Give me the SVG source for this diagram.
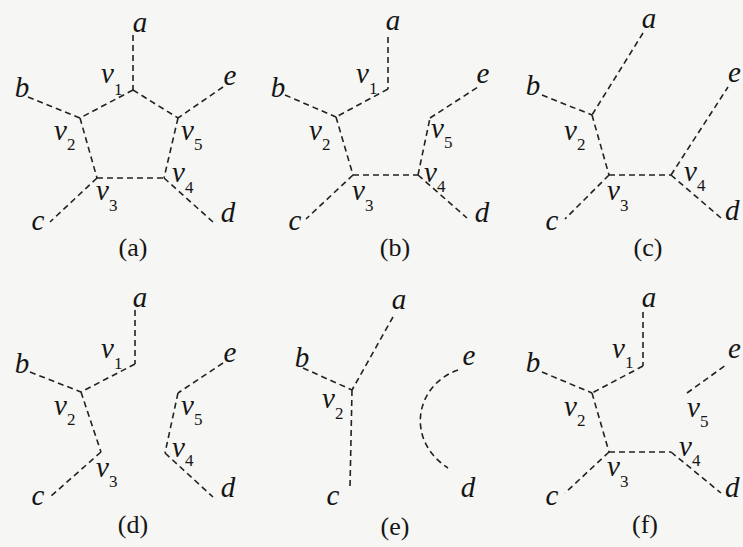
<svg xmlns="http://www.w3.org/2000/svg" width="743" height="547" viewBox="0 0 743 547">
<style>
.lbl{font-family:"Liberation Serif","Times New Roman",serif;font-style:italic;font-size:29px;fill:#151515}
.m{text-anchor:middle}
.sub{font-style:normal;font-size:17px}
.cap{font-family:"Liberation Serif","Times New Roman",serif;font-size:26px;fill:#151515;text-anchor:middle}
.ed{fill:none;stroke:#222;stroke-width:1.6;stroke-dasharray:6 4}
</style>
<rect width="743" height="547" fill="#f6f6f4"/>

<g id="panel-a">
<g id="connectors-a">
<line class="ed" x1="133" y1="35" x2="133" y2="90"/>
<line class="ed" x1="133" y1="90" x2="80" y2="118"/>
<line class="ed" x1="133" y1="90" x2="178" y2="118"/>
<line class="ed" x1="28" y1="97" x2="80" y2="118"/>
<line class="ed" x1="223" y1="87" x2="178" y2="118"/>
<line class="ed" x1="80" y1="118" x2="97" y2="178"/>
<line class="ed" x1="178" y1="118" x2="164" y2="178"/>
<line class="ed" x1="97" y1="178" x2="164" y2="178"/>
<line class="ed" x1="97" y1="178" x2="50" y2="222"/>
<line class="ed" x1="164" y1="178" x2="213" y2="222"/>
</g>
<g id="a-a"><text class="lbl m" x="140" y="32">a</text></g>
<g id="a-b"><text class="lbl m" x="22" y="97">b</text></g>
<g id="a-c"><text class="lbl m" x="38" y="230">c</text></g>
<g id="a-d"><text class="lbl m" x="228" y="222">d</text></g>
<g id="a-e"><text class="lbl m" x="230" y="85">e</text></g>
<g id="a-v1"><text class="lbl" x="101" y="83">v<tspan class="sub" dy="12">1</tspan></text></g>
<g id="a-v2"><text class="lbl" x="54" y="140">v<tspan class="sub" dy="10">2</tspan></text></g>
<g id="a-v3"><text class="lbl" x="96" y="200">v<tspan class="sub" dy="11">3</tspan></text></g>
<g id="a-v4"><text class="lbl" x="172" y="182">v<tspan class="sub" dy="11">4</tspan></text></g>
<g id="a-v5"><text class="lbl" x="181" y="140">v<tspan class="sub" dy="10">5</tspan></text></g>
<text class="cap" x="133" y="256">(a)</text>
</g>

<g id="panel-b">
<g id="connectors-b">
<line class="ed" x1="388" y1="37" x2="388" y2="89"/>
<line class="ed" x1="388" y1="89" x2="336" y2="117"/>
<line class="ed" x1="285" y1="95" x2="336" y2="117"/>
<line class="ed" x1="336" y1="117" x2="353" y2="175"/>
<line class="ed" x1="353" y1="175" x2="306" y2="219"/>
<line class="ed" x1="353" y1="175" x2="418" y2="175"/>
<line class="ed" x1="418" y1="175" x2="430" y2="118"/>
<line class="ed" x1="430" y1="118" x2="478" y2="87"/>
<line class="ed" x1="418" y1="175" x2="467" y2="218"/>
</g>
<g id="b-a"><text class="lbl m" x="393" y="30">a</text></g>
<g id="b-b"><text class="lbl m" x="278" y="97">b</text></g>
<g id="b-c"><text class="lbl m" x="295" y="230">c</text></g>
<g id="b-d"><text class="lbl m" x="482" y="222">d</text></g>
<g id="b-e"><text class="lbl m" x="483" y="83">e</text></g>
<g id="b-v1"><text class="lbl" x="356" y="83">v<tspan class="sub" dy="11">1</tspan></text></g>
<g id="b-v2"><text class="lbl" x="309" y="140">v<tspan class="sub" dy="10">2</tspan></text></g>
<g id="b-v3"><text class="lbl" x="352" y="200">v<tspan class="sub" dy="11">3</tspan></text></g>
<g id="b-v4"><text class="lbl" x="424" y="182">v<tspan class="sub" dy="10">4</tspan></text></g>
<g id="b-v5"><text class="lbl" x="431" y="138">v<tspan class="sub" dy="10">5</tspan></text></g>
<text class="cap" x="395" y="256">(b)</text>
</g>

<g id="panel-c">
<g id="connectors-c">
<line class="ed" x1="643" y1="33" x2="592" y2="115"/>
<line class="ed" x1="542" y1="95" x2="592" y2="115"/>
<line class="ed" x1="592" y1="115" x2="609" y2="175"/>
<line class="ed" x1="609" y1="175" x2="565" y2="219"/>
<line class="ed" x1="609" y1="175" x2="671" y2="175"/>
<line class="ed" x1="671" y1="175" x2="728" y2="87"/>
<line class="ed" x1="671" y1="175" x2="721" y2="218"/>
</g>
<g id="c-a"><text class="lbl m" x="649" y="28">a</text></g>
<g id="c-b"><text class="lbl m" x="533" y="95">b</text></g>
<g id="c-c"><text class="lbl m" x="552" y="230">c</text></g>
<g id="c-d"><text class="lbl" x="725" y="220">d</text></g>
<g id="c-e"><text class="lbl" x="728" y="82">e</text></g>
<g id="c-v2"><text class="lbl" x="564" y="140">v<tspan class="sub" dy="10">2</tspan></text></g>
<g id="c-v3"><text class="lbl" x="607" y="200">v<tspan class="sub" dy="11">3</tspan></text></g>
<g id="c-v4"><text class="lbl" x="684" y="181">v<tspan class="sub" dy="10">4</tspan></text></g>
<text class="cap" x="648" y="256">(c)</text>
</g>

<g id="panel-d">
<g id="connectors-d">
<line class="ed" x1="135" y1="310" x2="135" y2="364"/>
<line class="ed" x1="135" y1="364" x2="81" y2="392"/>
<line class="ed" x1="30" y1="372" x2="81" y2="392"/>
<line class="ed" x1="81" y1="392" x2="101" y2="452"/>
<line class="ed" x1="101" y1="452" x2="50" y2="497"/>
<line class="ed" x1="223" y1="363" x2="178" y2="393"/>
<line class="ed" x1="178" y1="393" x2="165" y2="453"/>
<line class="ed" x1="165" y1="453" x2="213" y2="497"/>
</g>
<g id="d-a"><text class="lbl m" x="140" y="307">a</text></g>
<g id="d-b"><text class="lbl m" x="22" y="373">b</text></g>
<g id="d-c"><text class="lbl m" x="38" y="505">c</text></g>
<g id="d-d"><text class="lbl m" x="228" y="497">d</text></g>
<g id="d-e"><text class="lbl m" x="230" y="362">e</text></g>
<g id="d-v1"><text class="lbl" x="101" y="358">v<tspan class="sub" dy="11">1</tspan></text></g>
<g id="d-v2"><text class="lbl" x="54" y="415">v<tspan class="sub" dy="10">2</tspan></text></g>
<g id="d-v3"><text class="lbl" x="96" y="477">v<tspan class="sub" dy="10">3</tspan></text></g>
<g id="d-v4"><text class="lbl" x="172" y="457">v<tspan class="sub" dy="9">4</tspan></text></g>
<g id="d-v5"><text class="lbl" x="181" y="415">v<tspan class="sub" dy="10">5</tspan></text></g>
<text class="cap" x="133" y="533">(d)</text>
</g>

<g id="panel-e">
<g id="connectors-e">
<line class="ed" x1="393" y1="317" x2="352" y2="390"/>
<line class="ed" x1="303" y1="368" x2="352" y2="390"/>
<line class="ed" x1="352" y1="390" x2="350" y2="488"/>
<path class="ed" d="M458 370 C415 385 405 440 448 468"/>
</g>
<g id="e-a"><text class="lbl m" x="399" y="309">a</text></g>
<g id="e-b"><text class="lbl m" x="302" y="367">b</text></g>
<g id="e-c"><text class="lbl m" x="333" y="505">c</text></g>
<g id="e-d"><text class="lbl m" x="468" y="497">d</text></g>
<g id="e-e"><text class="lbl m" x="469" y="365">e</text></g>
<g id="e-v2"><text class="lbl" x="322" y="408">v<tspan class="sub" dy="11">2</tspan></text></g>
<text class="cap" x="395" y="535">(e)</text>
</g>

<g id="panel-f">
<g id="connectors-f">
<line class="ed" x1="643" y1="312" x2="643" y2="366"/>
<line class="ed" x1="643" y1="366" x2="592" y2="393"/>
<line class="ed" x1="542" y1="372" x2="592" y2="393"/>
<line class="ed" x1="592" y1="393" x2="609" y2="452"/>
<line class="ed" x1="609" y1="452" x2="565" y2="493"/>
<line class="ed" x1="609" y1="452" x2="671" y2="452"/>
<line class="ed" x1="671" y1="452" x2="721" y2="493"/>
<line class="ed" x1="687" y1="393" x2="726" y2="365"/>
</g>
<g id="f-a"><text class="lbl m" x="649" y="307">a</text></g>
<g id="f-b"><text class="lbl m" x="533" y="372">b</text></g>
<g id="f-c"><text class="lbl m" x="552" y="505">c</text></g>
<g id="f-d"><text class="lbl" x="725" y="497">d</text></g>
<g id="f-e"><text class="lbl" x="728" y="358">e</text></g>
<g id="f-v1"><text class="lbl" x="612" y="358">v<tspan class="sub" dy="10">1</tspan></text></g>
<g id="f-v2"><text class="lbl" x="564" y="416">v<tspan class="sub" dy="10">2</tspan></text></g>
<g id="f-v3"><text class="lbl" x="607" y="476">v<tspan class="sub" dy="11">3</tspan></text></g>
<g id="f-v4"><text class="lbl" x="679" y="456">v<tspan class="sub" dy="10">4</tspan></text></g>
<g id="f-v5"><text class="lbl" x="687" y="417">v<tspan class="sub" dy="10">5</tspan></text></g>
<text class="cap" x="645" y="533">(f)</text>
</g>
</svg>
